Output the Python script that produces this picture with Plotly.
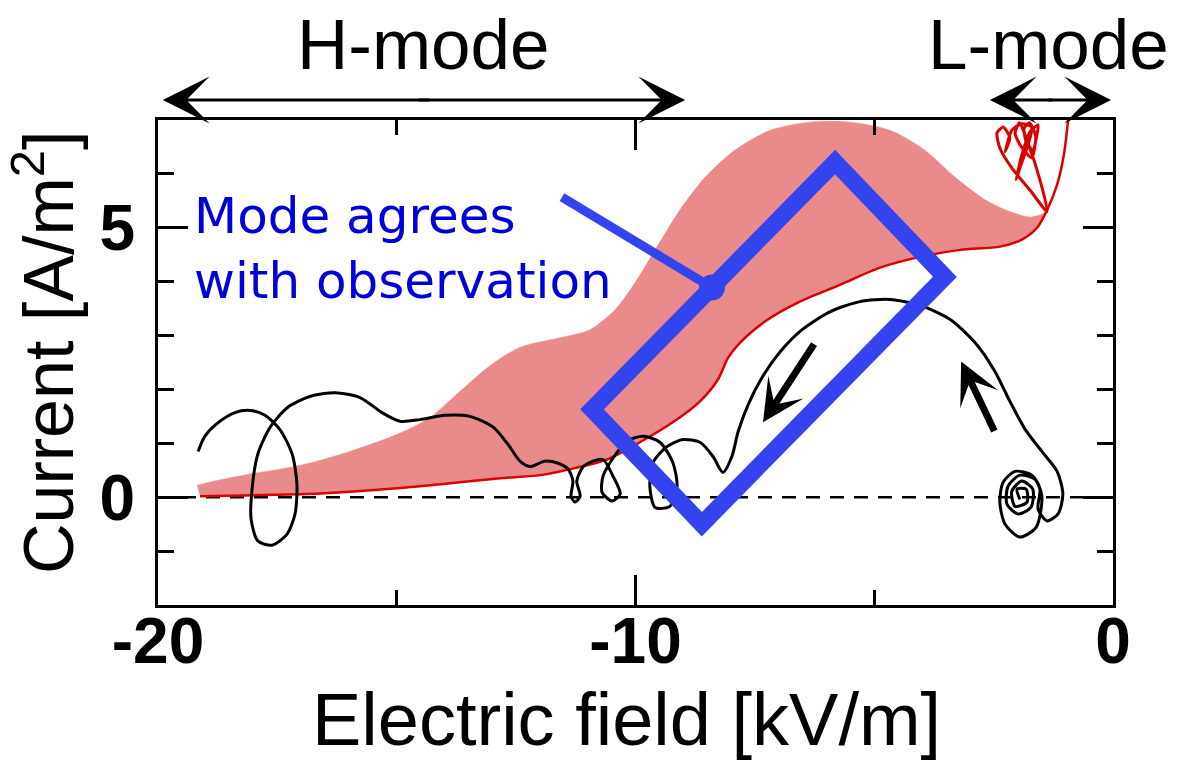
import plotly.graph_objects as go

# ---------------- data (kV/m, A/m^2) ----------------
band_upper_x = [-19.18, -18.81, -18.07, -17.03, -15.98, -14.93, -14.30, -13.68, -13.05, -12.42,
                -11.58, -10.95, -10.43, -10.01, -9.59, -9.07, -8.54, -7.92, -7.18, -6.35,
                -5.51, -4.67, -3.94, -3.31, -2.68, -2.16, -1.74, -1.42]
band_upper_y = [0.22, 0.30, 0.43, 0.59, 0.85, 1.19, 1.48, 1.96, 2.44, 2.78,
                2.96, 3.11, 3.48, 3.98, 4.59, 5.33, 5.94, 6.44, 6.81, 6.96,
                6.96, 6.81, 6.44, 5.94, 5.52, 5.30, 5.20, 5.28]

red_x = [-19.12, -17.86, -16.61, -14.93, -13.88, -12.84, -12.00, -11.27, -10.60, -9.91,
         -9.22, -8.65, -8.27, -8.06, -7.81, -7.29, -6.56, -5.72, -4.88, -4.04,
         -3.20, -2.37, -1.91, -1.59, -1.38, -1.17, -1.03, -0.94]
red_y = [0.02, 0.04, 0.07, 0.17, 0.26, 0.35, 0.41, 0.54, 0.70, 1.02,
         1.39, 1.78, 2.19, 2.59, 2.87, 3.26, 3.63, 3.94, 4.26, 4.46,
         4.59, 4.65, 4.78, 5.00, 5.33, 5.80, 6.35, 7.00]
band_lower_count = 25  # red curve points forming the lower edge of the band

scribble_x = [-1.38, -1.74, -2.12, -2.37, -2.43, -2.30, -2.16, -2.26, -2.12, -1.91,
              -1.70, -1.78, -1.95, -2.03, -1.91, -1.74, -1.57, -1.68, -1.82, -1.86,
              -1.75, -1.62, -1.70, -1.92, -2.05, -1.96, -1.80, -1.53, -1.38]
scribble_y = [5.30, 5.70, 6.11, 6.48, 6.76, 6.87, 6.67, 6.41, 6.81, 6.93,
              6.87, 6.54, 6.11, 5.89, 6.35, 6.78, 6.91, 6.44, 6.60, 6.85,
              6.95, 6.70, 6.30, 6.50, 6.75, 6.95, 6.62, 5.89, 5.30]

black_x = [-19.16, -19.02, -18.76, -18.39, -18.07, -17.76, -17.45, -17.19, -17.09, -17.13,
           -17.30, -17.61, -17.91, -18.05, -18.03, -17.91, -17.65, -17.28, -16.82, -16.29,
           -15.77, -15.29, -14.93, -14.51, -13.99, -13.47, -12.98, -12.67, -12.42, -12.21,
           -11.90, -11.62, -11.41, -11.31, -11.35, -11.27, -11.16, -11.23, -11.10, -10.89,
           -10.68, -10.47, -10.32, -10.49, -10.70, -10.68, -10.49, -10.18, -9.84, -9.49,
           -9.22, -9.13, -9.28, -9.59, -9.70, -9.63, -9.34, -9.01, -8.65, -8.38,
           -8.17, -7.98, -7.85, -7.64, -7.35, -6.97, -6.51, -5.93, -5.30, -4.67,
           -4.04, -3.41, -2.89, -2.47, -2.16, -1.84, -1.49, -1.17, -1.05, -1.15,
           -1.38, -1.57, -1.53, -1.70, -2.05, -2.30, -2.37, -2.26, -1.95, -1.61,
           -1.49, -1.63, -1.95, -2.20, -2.22, -1.99, -1.72, -1.68, -1.91, -2.12,
           -2.05, -1.80, -1.82, -2.01, -1.95]
black_y = [0.85, 1.13, 1.37, 1.57, 1.61, 1.52, 1.26, 0.80, 0.24, -0.31,
           -0.69, -0.89, -0.81, -0.41, 0.15, 0.80, 1.30, 1.67, 1.87, 1.94,
           1.85, 1.56, 1.41, 1.44, 1.52, 1.50, 1.30, 0.98, 0.67, 0.57,
           0.67, 0.63, 0.52, 0.30, 0.02, -0.09, 0.02, 0.30, 0.56, 0.67,
           0.70, 0.39, 0.06, -0.07, 0.09, 0.39, 0.70, 1.04, 1.13, 1.02,
           0.65, 0.20, -0.17, -0.19, 0.20, 0.65, 0.94, 1.07, 1.02, 0.76,
           0.46, 0.76, 1.22, 1.72, 2.22, 2.70, 3.11, 3.44, 3.63, 3.67,
           3.56, 3.30, 2.87, 2.33, 1.78, 1.26, 0.85, 0.48, 0.06, -0.31,
           -0.44, -0.22, 0.15, 0.41, 0.48, 0.28, -0.09, -0.50, -0.74, -0.56,
           0.02, 0.33, 0.41, 0.20, -0.13, -0.31, -0.19, 0.15, 0.30, 0.11,
           -0.17, -0.09, 0.15, 0.15, -0.04]

rect_x = [-5.82, -3.52, -8.61, -10.91]
rect_y = [6.22, 4.09, -0.50, 1.63]
leader_x = [-11.54, -8.40]
leader_y = [5.57, 3.89]

x_tick_vals = [-20, -10, 0]
x_tick_text = ["-20", "-10", "0"]
x_minor_vals = [-15, -5]
y_tick_vals = [0, 5]
y_tick_text = ["0", "5"]
y_minor_vals = [-1, 1, 2, 3, 4, 6]
x_range = [-20, 0]
y_range = [-2, 7]

# ---------------- figure ----------------
BAND = "#ea8b8b"
RED = "#dd0000"
BLUE = "#3344ee"
TXT = "Liberation Sans, Arial, Helvetica, sans-serif"
TICKF = "Liberation Sans, Arial, Helvetica, sans-serif"

fig = go.Figure()

poly_x = band_upper_x + red_x[:band_lower_count][::-1]
poly_y = band_upper_y + red_y[:band_lower_count][::-1]
fig.add_trace(go.Scatter(x=poly_x, y=poly_y, fill="toself", fillcolor=BAND,
                         mode="lines", line=dict(color=BAND, width=0.5, shape="spline", smoothing=0.8),
                         hoverinfo="skip", showlegend=False))
fig.add_trace(go.Scatter(x=red_x, y=red_y, mode="lines",
                         line=dict(color=RED, width=2.5, shape="spline", smoothing=0.8),
                         showlegend=False))
fig.add_trace(go.Scatter(x=scribble_x, y=scribble_y, mode="lines",
                         line=dict(color=RED, width=3, shape="spline", smoothing=0.6),
                         showlegend=False))
fig.add_trace(go.Scatter(x=black_x, y=black_y, mode="lines",
                         line=dict(color="black", width=3, shape="spline", smoothing=0.75),
                         showlegend=False))
fig.add_trace(go.Scatter(x=leader_x, y=leader_y, mode="lines+markers",
                         line=dict(color=BLUE, width=9),
                         marker=dict(size=[0, 26], color=BLUE, opacity=1, line=dict(width=0)),
                         showlegend=False))

# dashed zero line
fig.add_shape(type="line", xref="x", yref="y", x0=x_range[0], x1=x_range[1], y0=0, y1=0,
              line=dict(color="black", width=2.5, dash="14px,10px"), layer="below")

# blue rectangle (built from the corner arrays)
path = "M " + " L ".join(f"{x},{y}" for x, y in zip(rect_x, rect_y)) + " Z"
fig.add_shape(type="path", xref="x", yref="y", path=path,
              line=dict(color=BLUE, width=17), layer="above")

ann = []
# mode labels
ann.append(dict(text="H-mode", x=-14.43, xref="x", y=1.1567, yref="paper", showarrow=False,
                xanchor="center", yanchor="middle", borderpad=0,
                font=dict(family=TXT, size=71, color="black")))
ann.append(dict(text="L-mode", x=-1.36, xref="x", y=1.1567, yref="paper", showarrow=False,
                xanchor="center", yanchor="middle", borderpad=0,
                font=dict(family=TXT, size=71, color="black")))
# double arrows (two halves each, slightly overlapping in the middle)
for tip, off in [(-19.90, 268), (-8.96, -268), (-2.58, 64), (-0.04, -64)]:
    ann.append(dict(text="", x=tip, xref="x", y=1.0412, yref="paper", showarrow=True,
                    ax=off, ay=0, axref="pixel", ayref="pixel", arrowhead=3, arrowsize=2.6,
                    arrowwidth=3, arrowcolor="black", standoff=0, startstandoff=0))
# trajectory arrows
ann.append(dict(text="", x=-7.33, y=1.39, xref="x", yref="y", ax=-6.24, ay=2.87,
                axref="x", ayref="y", showarrow=True, arrowhead=3, arrowsize=1.0,
                arrowwidth=7, arrowcolor="black", standoff=0))
ann.append(dict(text="", x=-3.18, y=2.52, xref="x", yref="y", ax=-2.47, ay=1.20,
                axref="x", ayref="y", showarrow=True, arrowhead=3, arrowsize=1.0,
                arrowwidth=7, arrowcolor="black", standoff=0))
# blue text
ann.append(dict(text="Mode agrees<br>with observation", x=-19.28, xref="x", y=5.8, yref="y",
                showarrow=False, xanchor="left", yanchor="top", align="left",
                font=dict(family="DejaVu Sans, Verdana, sans-serif", size=50, color="#0000dd")))
# axis titles
ann.append(dict(text="Electric field [kV/m]", x=-10.18, xref="x", y=-0.237, yref="paper",
                showarrow=False, xanchor="center", yanchor="middle",
                font=dict(family=TXT, size=74, color="black")))
ann.append(dict(text="Current [A/m<sup>2</sup>]", x=-0.1194, xref="paper", y=0.5216, yref="paper",
                showarrow=False, xanchor="center", yanchor="middle", textangle=-90, borderpad=0,
                font=dict(family=TXT, size=70, color="black")))

fig.update_layout(
    width=1185, height=783,
    margin=dict(l=158, r=72, t=120, b=178),
    paper_bgcolor="white", plot_bgcolor="white",
    showlegend=False,
    annotations=ann,
)
fig.update_xaxes(range=x_range, showgrid=False, zeroline=False,
                 showline=True, linecolor="black", linewidth=3, mirror="ticks",
                 ticks="inside", ticklen=30, tickwidth=2.5, tickcolor="black",
                 tickmode="array", tickvals=x_tick_vals, ticktext=x_tick_text,
                 tickfont=dict(family=TICKF, size=64, color="black", weight="bold"),
                 ticklabelstandoff=-22,
                 minor=dict(tickmode="array", tickvals=x_minor_vals, ticks="inside",
                            ticklen=15, tickwidth=2.5, tickcolor="black"))
fig.update_yaxes(range=y_range, showgrid=False, zeroline=False,
                 showline=True, linecolor="black", linewidth=3, mirror="ticks",
                 ticks="inside", ticklen=30, tickwidth=2.5, tickcolor="black",
                 tickmode="array", tickvals=y_tick_vals, ticktext=y_tick_text,
                 tickfont=dict(family=TICKF, size=64, color="black", weight="bold"),
                 ticklabelstandoff=7,
                 minor=dict(tickmode="array", tickvals=y_minor_vals, ticks="inside",
                            ticklen=16, tickwidth=2.5, tickcolor="black"))

# remove the default 8px page margin so the figure fills the window exactly
fig.write_html("out.html", config={"displayModeBar": False},
               post_script="document.body.style.margin='0px';")
